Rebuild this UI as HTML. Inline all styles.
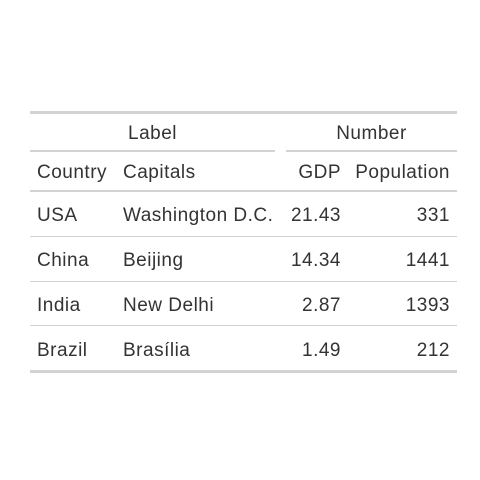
<!DOCTYPE html>
<html><head><meta charset="utf-8"><style>
body{margin:0;width:480px;height:480px;background:#fff;position:relative;overflow:hidden;font-family:"Liberation Sans",sans-serif;font-size:19px;letter-spacing:0.5px;color:#333}
.l{position:absolute;background:#d3d3d3}
.t{position:absolute;line-height:20px;white-space:nowrap;margin-top:1px}
.r{text-align:right}
</style></head><body>
<div class="l" style="left:30px;width:427px;top:111px;height:3px"></div>
<div class="t" style="left:30px;width:245px;text-align:center;top:123px">Label</div>
<div class="t" style="left:286px;width:171px;text-align:center;top:123px">Number</div>
<div class="l" style="left:30px;width:245px;top:150px;height:2px"></div>
<div class="l" style="left:286px;width:171px;top:150px;height:2px"></div>
<div class="t" style="left:37px;top:162px">Country</div>
<div class="t" style="left:123px;top:162px">Capitals</div>
<div class="t r" style="right:139px;top:162px">GDP</div>
<div class="t r" style="right:30px;top:162px">Population</div>
<div class="l" style="left:30px;width:427px;top:190px;height:2px"></div>

<div class="t" style="left:37px;top:205px">USA</div>
<div class="t" style="left:123px;top:205px">Washington D.C.</div>
<div class="t r" style="right:139px;top:205px">21.43</div>
<div class="t r" style="right:30px;top:205px">331</div>
<div class="l" style="left:30px;width:427px;top:236px;height:1px"></div>

<div class="t" style="left:37px;top:250px">China</div>
<div class="t" style="left:123px;top:250px">Beijing</div>
<div class="t r" style="right:139px;top:250px">14.34</div>
<div class="t r" style="right:30px;top:250px">1441</div>
<div class="l" style="left:30px;width:427px;top:281px;height:1px"></div>

<div class="t" style="left:37px;top:295px">India</div>
<div class="t" style="left:123px;top:295px">New Delhi</div>
<div class="t r" style="right:139px;top:295px">2.87</div>
<div class="t r" style="right:30px;top:295px">1393</div>
<div class="l" style="left:30px;width:427px;top:325px;height:1px"></div>

<div class="t" style="left:37px;top:340px">Brazil</div>
<div class="t" style="left:123px;top:340px">Brasília</div>
<div class="t r" style="right:139px;top:340px">1.49</div>
<div class="t r" style="right:30px;top:340px">212</div>
<div class="l" style="left:30px;width:427px;top:370px;height:3px"></div>
</body></html>
